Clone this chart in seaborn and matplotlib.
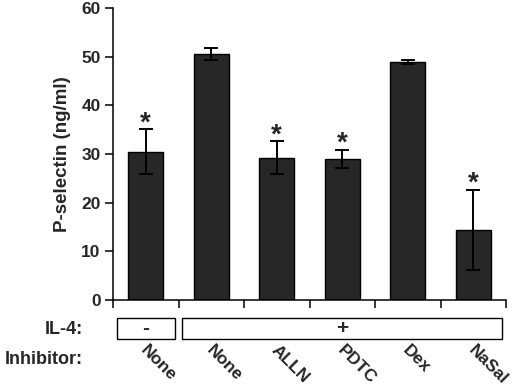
import matplotlib
matplotlib.use("Agg")
import matplotlib.pyplot as plt
import seaborn as sns
import pandas as pd
import numpy as np
from matplotlib.patches import Rectangle
import matplotlib.transforms as mtransforms

categories = ["None", "None ", "ALLN", "PDTC", "Dex", "NaSal"]
tick_labels = ["None", "None", "ALLN", "PDTC", "Dex", "NaSal"]
values = [30.5, 50.5, 29.2, 29.0, 48.9, 14.4]
errors = [4.6, 1.2, 3.4, 1.9, 0.5, 8.3]
significant = [True, False, True, True, False, True]
il4_groups = [("-", 0, 0), ("+", 1, 5)]

sns.set_theme(style="white")
plt.rcParams['font.family'] = ['Liberation Sans', 'DejaVu Sans']
plt.rcParams['font.weight'] = 'bold'

fig = plt.figure(figsize=(5.2, 3.88), dpi=100)
ax = fig.add_axes([113/520, 1-300/388, 393/520, 292/388])

df = pd.DataFrame({"cat": categories, "val": values})
sns.barplot(data=df, x="cat", y="val", ax=ax, color="#272727", saturation=1,
            width=0.54, edgecolor="black", linewidth=1.0, errorbar=None)
x = np.arange(len(categories))
ax.errorbar(x, values, yerr=errors, fmt="none", ecolor="black",
            elinewidth=1.4, capsize=4.7, capthick=1.4)

for xi, v, e, s in zip(x, values, errors, significant):
    if s:
        ax.annotate("*", (xi, v + e), xytext=(0, 4.2), textcoords="offset points",
                    ha="center", va="center", fontsize=20, fontweight="bold")

ax.set_xlim(-0.5, 5.5)
ax.set_ylim(0, 60)
ax.set_yticks([0, 10, 20, 30, 40, 50, 60])
ax.set_yticklabels(["0", "10", "20", "30", "40", "50", "60"], fontsize=12.5, fontweight="bold")
ax.set_ylabel("P-selectin (ng/ml)", fontsize=13.5, fontweight="bold", labelpad=7)
ax.set_xlabel("")
ax.set_xticks(np.arange(-0.5, 6, 1.0))
ax.set_xticklabels([])
ax.tick_params(axis="both", direction="out", length=6, width=1.1, color="black",
               left=True, bottom=True, pad=3)
for side in ["top", "right"]:
    ax.spines[side].set_visible(False)
for side in ["left", "bottom"]:
    ax.spines[side].set_color("black")
    ax.spines[side].set_linewidth(1.1)

trans = mtransforms.blended_transform_factory(ax.transData, ax.transAxes)
y0 = (300 - 339) / 292
h = (339 - 318) / 292
for sym, a, b in il4_groups:
    left = a - 0.44
    right = b + 0.44
    rect = Rectangle((left, y0), right - left, h, transform=trans, fill=False,
                     edgecolor="black", linewidth=1.0, clip_on=False)
    ax.add_patch(rect)
    ax.text((left + right) / 2, y0 + h / 2, sym, transform=trans, ha="center",
            va="center", fontsize=15, fontweight="bold")

for xi, lab in zip(x, tick_labels):
    ax.text(xi - 0.12, (300 - 343) / 292, lab, transform=trans, rotation=-45,
            ha="left", va="top", fontsize=12.5, fontweight="bold")

fig.text(83/520, 1 - 329/388, "IL-4:", ha="right", va="center", fontsize=13, fontweight="bold")
fig.text(83/520, 1 - 360/388, "Inhibitor:", ha="right", va="center", fontsize=13, fontweight="bold")

fig.savefig("out.png", dpi=100)
